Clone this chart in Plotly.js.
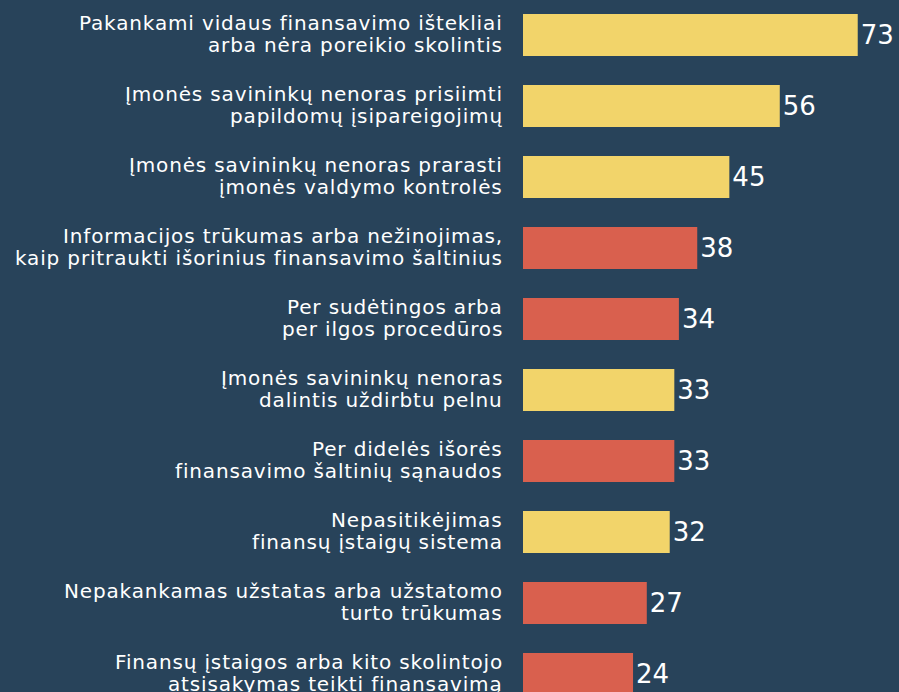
<!DOCTYPE html>
<html>
<head>
<meta charset="utf-8">
<script src="https://cdn.plot.ly/plotly-3.0.1.min.js"></script>
<style>
html,body{margin:0;padding:0;background:#28435a;}
#chart{width:899px;height:692px;}
text.annotation-text{letter-spacing:0.85px;}
</style>
</head>
<body>
<div id="chart"></div>
<script>
const categories = [
  "Pakankami vidaus finansavimo ištekliai<br>arba nėra poreikio skolintis",
  "Įmonės savininkų nenoras prisiimti<br>papildomų įsipareigojimų",
  "Įmonės savininkų nenoras prarasti<br>įmonės valdymo kontrolės",
  "Informacijos trūkumas arba nežinojimas,<br>kaip pritraukti išorinius finansavimo šaltinius",
  "Per sudėtingos arba<br>per ilgos procedūros",
  "Įmonės savininkų nenoras<br>dalintis uždirbtu pelnu",
  "Per didelės išorės<br>finansavimo šaltinių sąnaudos",
  "Nepasitikėjimas<br>finansų įstaigų sistema",
  "Nepakankamas užstatas arba užstatomo<br>turto trūkumas",
  "Finansų įstaigos arba kito skolintojo<br>atsisakymas teikti finansavimą"
];
const values = [73, 56, 45, 38, 34, 33, 33, 32, 27, 24];
const groups = ["internal", "internal", "internal", "external", "external", "internal", "external", "internal", "external", "external"];
const groupColors = {internal: "#f2d46a", external: "#d9604e"};

const FONT = "'DejaVu Sans', sans-serif";
const idx = categories.map((c, i) => i);

const trace = {
  type: "bar",
  orientation: "h",
  y: idx,
  x: values,
  width: 0.59,
  marker: {color: groups.map(g => groupColors[g])},
  text: values.map(String),
  textposition: "outside",
  textfont: {family: FONT, size: 26, color: "#ffffff"},
  cliponaxis: false,
  hoverinfo: "none"
};

const annotations = [];
categories.forEach((label, i) => {
  const lines = label.split("<br>");
  const n = lines.length;
  lines.forEach((line, k) => {
    annotations.push({
      xref: "paper", yref: "y",
      x: 0, y: i,
      xanchor: "right", yanchor: "middle",
      xshift: -18,
      yshift: ((n - 1) / 2 - k) * 22.5 + 1,
      text: line,
      showarrow: false,
      align: "right",
      font: {family: FONT, size: 20, color: "#ffffff"}
    });
  });
});

const layout = {
  width: 899,
  height: 692,
  margin: {l: 523, r: 0, t: 0, b: 0, pad: 0},
  paper_bgcolor: "#28435a",
  plot_bgcolor: "#28435a",
  showlegend: false,
  xaxis: {range: [0, 82], visible: false, fixedrange: true},
  yaxis: {
    range: [9.253, -0.493],
    showticklabels: false,
    ticks: "",
    showgrid: false,
    zeroline: false,
    showline: false
  },
  annotations: annotations
};

Plotly.newPlot("chart", [trace], layout, {displayModeBar: false, staticPlot: true});
</script>
</body>
</html>
